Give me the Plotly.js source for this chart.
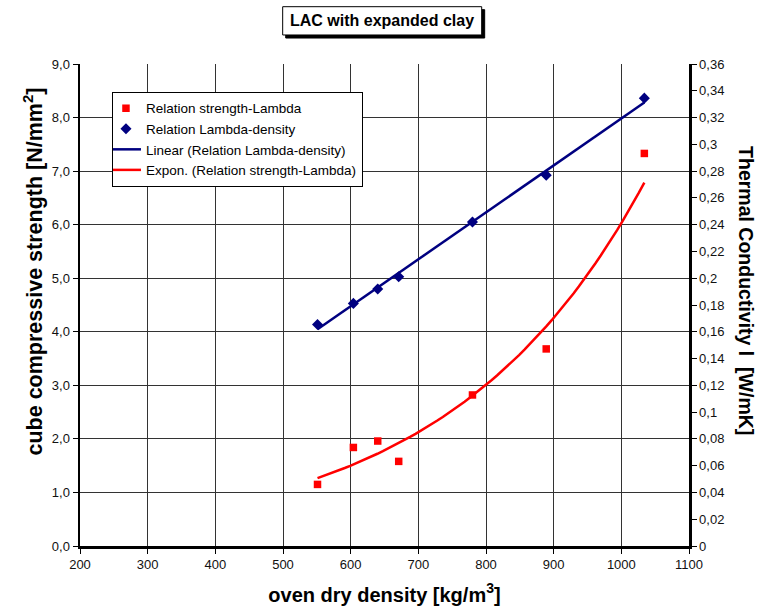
<!DOCTYPE html>
<html><head><meta charset="utf-8">
<script src="https://cdn.plot.ly/plotly-3.0.1.min.js"></script>
<style>html,body{margin:0;padding:0;background:#fff}</style>
</head><body><div id="chart" style="width:769px;height:609px"></div>
<script>
// ---- data ----
const density  = [551, 604, 640, 671, 780, 889, 1034];          // oven dry density [kg/m3]
const strength = [1.15, 1.84, 1.96, 1.58, 2.82, 3.68, 7.33];     // cube compressive strength [N/mm2]
const lambda   = [0.1655, 0.1812, 0.1919, 0.2011, 0.242, 0.277, 0.3345]; // thermal conductivity [W/mK]
const seriesNames = ["Relation strength-Lambda", "Relation Lambda-density",
                     "Linear (Relation Lambda-density)", "Expon. (Relation strength-Lambda)"];
const chartTitle = "LAC with expanded clay";
const xTitle = "oven dry density [kg/m<sup>3</sup>]";
const yTitle = "cube compressive strength [N/mm<sup>2</sup>]";
const y2Title = "Thermal Conductivity l \u00a0[W/mK]";

// ---- trendlines (least-squares fits of the data, like the spreadsheet) ----
function linFit(x, y) {
  const n = x.length, mx = x.reduce((a,b)=>a+b,0)/n, my = y.reduce((a,b)=>a+b,0)/n;
  let sxy = 0, sxx = 0;
  for (let i=0;i<n;i++){ sxy += (x[i]-mx)*(y[i]-my); sxx += (x[i]-mx)**2; }
  const b = sxy/sxx; return {a: my - b*mx, b};
}
const lin = linFit(density, lambda);
const ex = linFit(density, strength.map(Math.log));
const xmin = Math.min(...density), xmax = Math.max(...density);
const linX = [xmin, xmax], linY = linX.map(v => lin.a + lin.b*v);
const expX = [], expY = [];
for (let i=0;i<=60;i++){ const v = xmin + (xmax-xmin)*i/60; expX.push(v); expY.push(Math.exp(ex.a + ex.b*v)); }

const FONT = "Arial, 'Liberation Sans', sans-serif";
const RED = "#ff0000", BLUE = "#000080";

const traces = [
  {x: linX, y: linY, yaxis: "y2", mode: "lines", name: seriesNames[2], legendrank: 3,
   line: {color: BLUE, width: 2.5}},
  {x: expX, y: expY, mode: "lines", name: seriesNames[3], legendrank: 4,
   line: {color: RED, width: 2.5}},
  {x: density, y: strength, mode: "markers", name: seriesNames[0], legendrank: 1,
   marker: {symbol: "square", size: 7.5, color: RED}},
  {x: density, y: lambda, yaxis: "y2", mode: "markers", name: seriesNames[1], legendrank: 2,
   marker: {symbol: "diamond", size: 8.5, color: BLUE}}
];

const axisCommon = {
  showline: true, linecolor: "#000", linewidth: 2.5,
  ticks: "outside", ticklen: 5, tickcolor: "#000", tickwidth: 1,
  zeroline: false, tickfont: {family: FONT, size: 13, color: "#111"}
};

const layout = {
  width: 769, height: 609,
  margin: {l: 80, r: 80, t: 64, b: 63},
  paper_bgcolor: "#fff", plot_bgcolor: "#fff",
  separators: ", ",
  font: {family: FONT, color: "#000"},
  showlegend: true,
  legend: {x: 0.0525, y: 0.942, xanchor: "left", yanchor: "top",
           bgcolor: "#fff", bordercolor: "#000", borderwidth: 1, indentation: -7,
           font: {family: FONT, size: 13.5, color: "#000"}, itemwidth: 30},
  xaxis: Object.assign({}, axisCommon, {
    range: [200, 1100], tick0: 200, dtick: 100,
    showgrid: true, gridcolor: "#333", gridwidth: 1,
    title: {text: xTitle, font: {family: FONT, size: 20, weight: "bold", color: "#000"}, standoff: 17}
  }),
  yaxis: Object.assign({}, axisCommon, {
    range: [0, 9], tick0: 0, dtick: 1, tickformat: ".1f",
    showgrid: true, gridcolor: "#333", gridwidth: 1
  }),
  yaxis2: Object.assign({}, axisCommon, {
    overlaying: "y", side: "right", range: [0, 0.36], tick0: 0, dtick: 0.02,
    tickformat: ".2~f", showgrid: false
  }),
  shapes: [
    {type: "rect", xref: "paper", yref: "paper", x0: 0.3378, x1: 0.6645, y0: 1.0539, y1: 1.1127,
     fillcolor: "#000", line: {color: "#000", width: 1}, layer: "above"},
    {type: "rect", xref: "paper", yref: "paper", x0: 0.3328, x1: 0.6596, y0: 1.0602, y1: 1.1189,
     fillcolor: "#fff", line: {color: "#000", width: 1}, layer: "above"}
  ],
  annotations: [
    {text: chartTitle, xref: "paper", yref: "paper", x: 0.4962, y: 1.0895,
     xanchor: "center", yanchor: "middle", showarrow: false,
     font: {family: FONT, size: 16, weight: "bold", color: "#000"}},
    {text: yTitle, xref: "paper", yref: "paper", x: -0.0788, y: 0.5695,
     xanchor: "center", yanchor: "middle", showarrow: false, textangle: -90,
     font: {family: FONT, size: 21.5, weight: "bold", color: "#000"}},
    {text: y2Title, xref: "paper", yref: "paper", x: 1.0936, y: 0.531,
     xanchor: "center", yanchor: "middle", showarrow: false, textangle: 90,
     font: {family: FONT, size: 19.5, weight: "bold", color: "#000"}}
  ]
};

Plotly.newPlot("chart", traces, layout, {displayModeBar: false, staticPlot: true});
</script></body></html>
